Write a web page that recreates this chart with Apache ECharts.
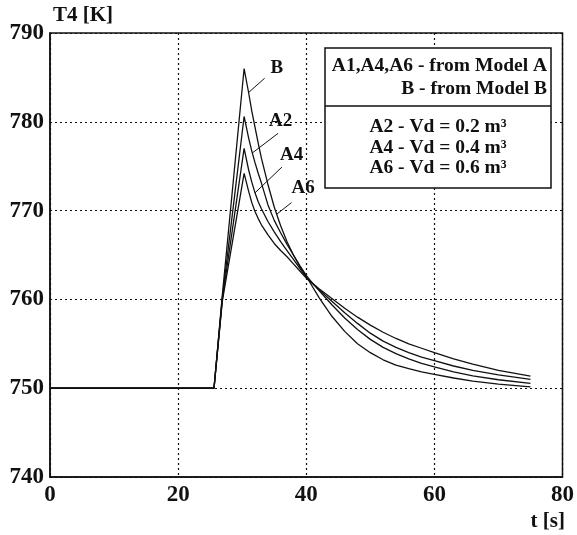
<!DOCTYPE html>
<html><head><meta charset="utf-8">
<script src="https://cdn.jsdelivr.net/npm/echarts@6/dist/echarts.min.js"></script>
<style>html,body{margin:0;padding:0;background:#fff}#c{width:577px;height:535px}</style>
</head><body><div id="c"></div>
<script>
// time points (s), shared by all curves
const times = [0, 25.6, 26.9, 30.3, 31, 31.5, 32, 32.5, 33, 34, 35, 36, 37, 38, 39, 40, 41, 42, 44, 46, 48, 50, 52, 54, 56, 58, 60, 63, 66, 70, 75];
// T4 (K) per curve
const valB  = [750, 750, 760.5, 786.0, 783.3, 781.2, 779.4, 777.6, 775.9, 773.0, 770.4, 768.3, 766.5, 765.0, 763.7, 762.6, 761.4, 760.2, 758.1, 756.4, 755.0, 754.0, 753.2, 752.6, 752.2, 751.85, 751.55, 751.15, 750.8, 750.45, 750.15];
const valA2 = [750, 750, 760.2, 780.6, 778.2, 776.7, 775.4, 774.2, 773.1, 770.7, 768.9, 767.5, 766.2, 765.0, 763.8, 762.7, 761.8, 761.0, 759.4, 757.9, 756.6, 755.5, 754.6, 753.9, 753.3, 752.8, 752.4, 751.85, 751.4, 750.95, 750.55];
const valA4 = [750, 750, 760.0, 777.0, 774.6, 773.2, 772.0, 771.0, 770.2, 768.8, 767.6, 766.5, 765.5, 764.5, 763.5, 762.5, 761.8, 761.1, 759.8, 758.5, 757.3, 756.2, 755.3, 754.6, 754.0, 753.5, 753.1, 752.5, 752.0, 751.5, 751.0];
const valA6 = [750, 750, 759.8, 774.2, 772.2, 770.9, 769.9, 769.1, 768.4, 767.3, 766.3, 765.5, 764.8, 764.0, 763.2, 762.4, 761.8, 761.2, 760.1, 759.0, 758.0, 757.1, 756.3, 755.6, 755.0, 754.5, 754.0, 753.3, 752.7, 752.0, 751.35];
const seriesNames = ['B', 'A2', 'A4', 'A6'];
// curve label anchors [t, T] and leader lines [[t,T],[t,T]]
const labelPos = [[35.4, 786.1], [36.0, 780.1], [37.7, 776.3], [39.5, 772.5]];
const leaders = [
  [[31.0, 783.3], [33.5, 784.9]],
  [[31.6, 776.5], [35.6, 778.7]],
  [[32.0, 772.0], [36.2, 774.9]],
  [[35.4, 769.6], [37.7, 770.9]]
];
const xTicks = [0, 20, 40, 60, 80];
const yTicks = [740, 750, 760, 770, 780, 790];
const legendLines1 = ['A1,A4,A6 - from Model A', 'B - from Model B'];
const legendLines2 = ['A2 - Vd = 0.2 m³', 'A4 - Vd = 0.4 m³', 'A6 - Vd = 0.6 m³'];

const FONT = '"Liberation Serif", "Times New Roman", serif';
const chart = echarts.init(document.getElementById('c'), null, {renderer: 'canvas'});
const allVals = [valB, valA2, valA4, valA6];

const series = allVals.map((vals, k) => ({
  type: 'line', name: seriesNames[k], data: times.map((t, i) => [t, vals[i]]), showSymbol: false, smooth: false,
  lineStyle: {color: '#111', width: 1.3}, silent: true,
  markLine: {silent: true, symbol: 'none', animation: false,
    lineStyle: {color: '#111', width: 1, type: 'solid'}, label: {show: false},
    data: [[{coord: leaders[k][0]}, {coord: leaders[k][1]}]]},
  markPoint: {silent: true, animation: false, symbol: 'circle', symbolSize: 1,
    itemStyle: {color: 'rgba(0,0,0,0)'},
    label: {show: true, position: 'inside', formatter: seriesNames[k], color: '#111',
      fontFamily: FONT, fontWeight: 'bold', fontSize: 19},
    data: [{coord: labelPos[k]}]}
}));

const lx = 325, ly = 48, lw = 226;
const LF = 'bold 19.5px ' + FONT;
const gfx = [
  {type: 'text', left: 53, top: 5, style: {text: 'T4 [K]', font: 'bold 21px ' + FONT, fill: '#111'}},
  {type: 'text', right: 12, top: 511, style: {text: 't [s]', font: 'bold 21px ' + FONT, fill: '#111'}},
  {type: 'rect', shape: {x: lx, y: ly, width: lw, height: 140}, style: {fill: '#fff', stroke: '#111', lineWidth: 1.5}, z: 100},
  {type: 'line', shape: {x1: lx, y1: 106, x2: lx + lw, y2: 106}, style: {stroke: '#111', lineWidth: 1.5}, z: 101},
  {type: 'text', x: lx + lw - 4, y: 66, style: {text: legendLines1[0], font: LF, fill: '#111', align: 'right', verticalAlign: 'middle'}, z: 102},
  {type: 'text', x: lx + lw - 4, y: 89, style: {text: legendLines1[1], font: LF, fill: '#111', align: 'right', verticalAlign: 'middle'}, z: 102},
];
legendLines2.forEach((s, i) => gfx.push({type: 'text', x: lx + lw / 2, y: 127 + i * 20.5, style: {text: s, font: LF, fill: '#111', align: 'center', verticalAlign: 'middle'}, z: 102}));

chart.setOption({
  animation: false,
  backgroundColor: '#fff',
  grid: {left: 50, right: 14, top: 33, bottom: 58, show: true, borderColor: '#111', borderWidth: 1.5, backgroundColor: 'transparent'},
  xAxis: {type: 'value', min: xTicks[0], max: xTicks[xTicks.length - 1], interval: 20,
    axisLine: {show: true, lineStyle: {color: '#111', width: 1.5}}, axisTick: {show: false},
    axisLabel: {color: '#111', fontFamily: FONT, fontWeight: 'bold', fontSize: 23, margin: 7},
    splitLine: {show: true, lineStyle: {color: '#111', type: [2, 3], width: 1.2}}},
  yAxis: {type: 'value', min: yTicks[0], max: yTicks[yTicks.length - 1], interval: 10,
    axisLine: {show: true, lineStyle: {color: '#111', width: 1.5}}, axisTick: {show: false},
    axisLabel: {color: '#111', fontFamily: FONT, fontWeight: 'bold', fontSize: 23, margin: 6},
    splitLine: {show: true, lineStyle: {color: '#111', type: [2, 3], width: 1.2}}},
  graphic: gfx,
  series: series
});
</script></body></html>
